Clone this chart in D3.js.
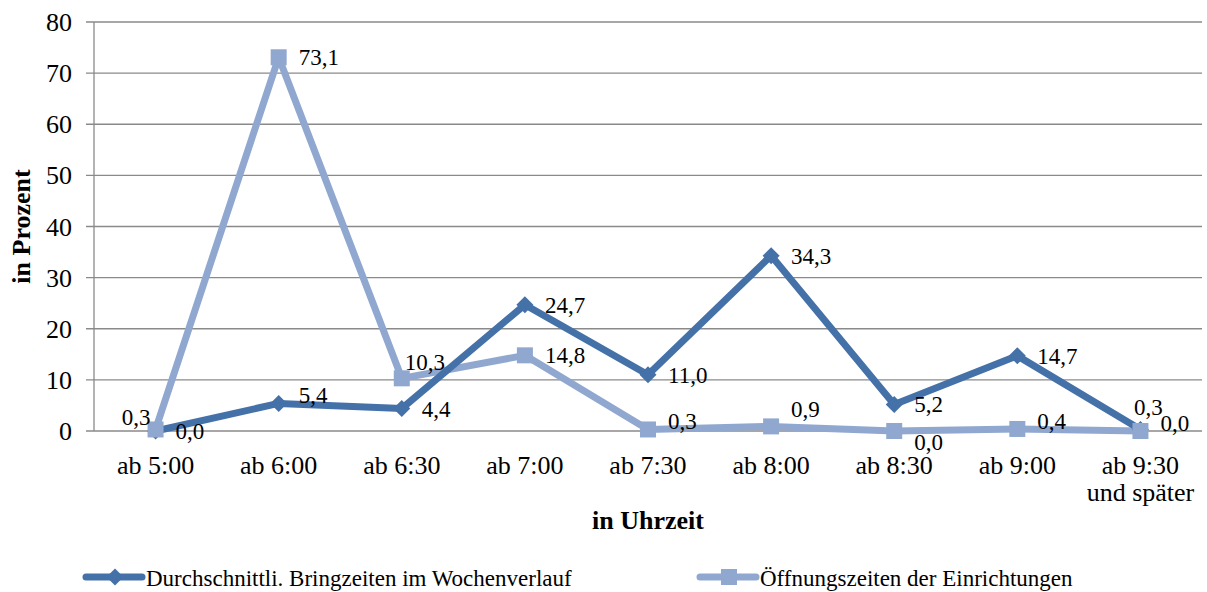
<!DOCTYPE html>
<html lang="de">
<head>
<meta charset="UTF-8">
<title>Bringzeiten</title>
<script src="https://cdn.jsdelivr.net/npm/d3@7"></script>
<style>
  body { margin: 0; background: #fff; }
  text { font-family: "Liberation Serif", "Times New Roman", serif; fill: #000; }
</style>
</head>
<body>
<script>
// categories and values
var categories = ["ab 5:00", "ab 6:00", "ab 6:30", "ab 7:00", "ab 7:30", "ab 8:00", "ab 8:30", "ab 9:00", "ab 9:30|und später"];
var bringzeiten = [0.0, 5.4, 4.4, 24.7, 11.0, 34.3, 5.2, 14.7, 0.3];
var oeffnungszeiten = [0.3, 73.1, 10.3, 14.8, 0.3, 0.9, 0.0, 0.4, 0.0];
var yTicks = [0, 10, 20, 30, 40, 50, 60, 70, 80];
var seriesNames = ["Durchschnittli. Bringzeiten im Wochenverlauf", "Öffnungszeiten der Einrichtungen"];

var w = 1207, h = 592;
var plotLeft = 94, plotRight = 1202, plotTop = 22, plotBottom = 431;
var dark = "#4571a9", light = "#90a8cf", grid = "#8a8a8a";

var svg = d3.select("body").append("svg")
    .attr("width", w)
    .attr("height", h);

var x = d3.scaleBand().domain(categories).range([plotLeft, plotRight]);
var y = d3.scaleLinear().domain([0, 80]).range([plotBottom, plotTop]);
var cx = function(i) { return x(categories[i]) + x.bandwidth() / 2; };

// gridlines
svg.selectAll("line.grid")
    .data(yTicks)
    .enter().append("line")
    .attr("x1", plotLeft - 8).attr("x2", plotRight)
    .attr("y1", function(d) { return y(d); })
    .attr("y2", function(d) { return y(d); })
    .attr("stroke", grid).attr("stroke-width", 1.3);

// y axis line
svg.append("line")
    .attr("x1", plotLeft).attr("x2", plotLeft)
    .attr("y1", plotTop).attr("y2", plotBottom)
    .attr("stroke", grid).attr("stroke-width", 1.3);

// y tick labels
svg.selectAll("text.ytick")
    .data(yTicks)
    .enter().append("text")
    .attr("x", plotLeft - 22)
    .attr("y", function(d) { return y(d) + 9; })
    .attr("text-anchor", "end")
    .style("font-size", "26px")
    .text(function(d) { return d; });

// x tick labels
categories.forEach(function(c, i) {
    var lines = c.split("|");
    var t = svg.append("text")
        .attr("x", cx(i)).attr("y", 474)
        .attr("text-anchor", "middle")
        .style("font-size", "26px");
    lines.forEach(function(l, j) {
        t.append("tspan").attr("x", cx(i)).attr("dy", j ? 27 : 0).text(l);
    });
});

// axis titles
svg.append("text")
    .attr("transform", "translate(30," + ((plotTop + plotBottom) / 2) + ") rotate(-90)")
    .attr("text-anchor", "middle")
    .style("font-size", "26px").style("font-weight", "bold")
    .text("in Prozent");
svg.append("text")
    .attr("x", (plotLeft + plotRight) / 2).attr("y", 529)
    .attr("text-anchor", "middle")
    .style("font-size", "26px").style("font-weight", "bold")
    .text("in Uhrzeit");

var line = d3.line()
    .x(function(d, i) { return cx(i); })
    .y(function(d) { return y(d); });

var fmt = function(v) { return v.toFixed(1).replace(".", ","); };

// marker shapes: wide diamond and square
function marker(sel, shape, color) {
    if (shape === "diamond") {
        sel.append("path").attr("d", "M0,-8.5L8.5,0L0,8.5L-8.5,0Z").attr("fill", color);
    } else {
        sel.append("rect").attr("x", -8).attr("y", -8).attr("width", 16).attr("height", 16).attr("fill", color);
    }
}

function drawLine(vals, color) {
    svg.append("path")
        .datum(vals)
        .attr("d", line)
        .attr("fill", "none")
        .attr("stroke", color)
        .attr("stroke-width", 7)
        .attr("stroke-linejoin", "round");
}

function drawMarkers(vals, color, shape) {
    vals.forEach(function(d, i) {
        var g = svg.append("g").attr("transform", "translate(" + cx(i) + "," + y(d) + ")");
        marker(g, shape, color);
    });
}

// data label placement codes
// r = right, s = right a bit higher, a = above right, b = below right,
// l = left, o = on the marker, u = above
function drawLabels(vals, place) {
    svg.selectAll(null)
        .data(vals)
        .enter().append("text")
        .attr("x", function(d, i) {
            var p = place[i];
            if (p === "l") return cx(i) - 5;
            if (p === "o") return cx(i) + 3;
            if (p === "u") return cx(i) + 8;
            return cx(i) + 20;
        })
        .attr("y", function(d, i) {
            var py = y(d), p = place[i];
            if (p === "l") return py - 4;
            if (p === "o") return py - 8;
            if (p === "u") return py - 14;
            if (p === "b") return py + 19;
            if (p === "a") return py - 9;
            if (p === "s") return py;
            return py + 8;
        })
        .attr("text-anchor", function(d, i) {
            var p = place[i];
            return p === "l" ? "end" : p === "u" ? "middle" : "start";
        })
        .style("font-size", "23px")
        .text(fmt);
}

drawLine(oeffnungszeiten, light);
drawLine(bringzeiten, dark);
drawMarkers(bringzeiten, dark, "diamond");
drawMarkers(oeffnungszeiten, light, "square");
drawLabels(oeffnungszeiten, ["l", "r", "o", "r", "s", "a", "b", "s", "s"]);
drawLabels(bringzeiten, ["r", "s", "r", "r", "r", "r", "r", "r", "u"]);

// legend
var legend = [
    { name: seriesNames[0], color: dark, shape: "diamond", x: 86 },
    { name: seriesNames[1], color: light, shape: "square", x: 700 }
];
legend.forEach(function(l) {
    var ly = 577;
    svg.append("line")
        .attr("x1", l.x).attr("x2", l.x + 56)
        .attr("y1", ly).attr("y2", ly)
        .attr("stroke", l.color).attr("stroke-width", 7)
        .attr("stroke-linecap", "round");
    var g = svg.append("g").attr("transform", "translate(" + (l.x + 29) + "," + ly + ")");
    marker(g, l.shape, l.color);
    svg.append("text")
        .attr("x", l.x + 60).attr("y", ly + 9)
        .style("font-size", "23px")
        .text(l.name);
});
</script>
</body>
</html>
